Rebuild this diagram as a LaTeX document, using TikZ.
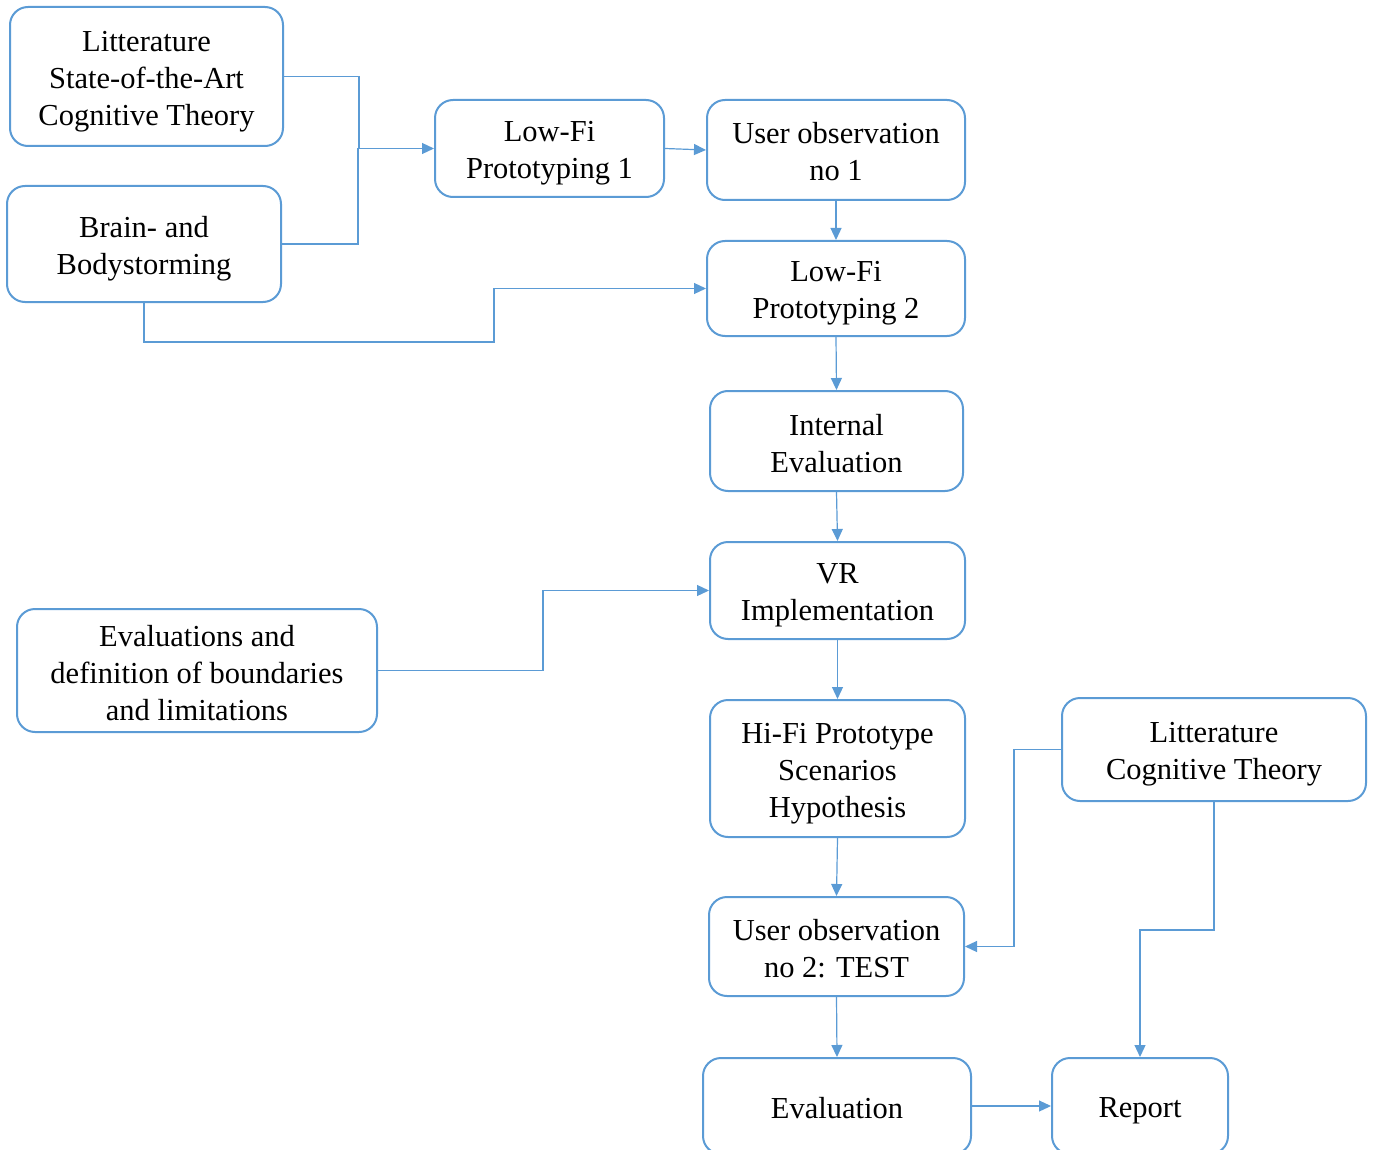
\documentclass[tikz,border=0pt]{standalone}
\usepackage{fontspec}
\setmainfont{Liberation Serif}
\usetikzlibrary{arrows.meta}
\definecolor{bl}{HTML}{5B9BD5}
\newcommand{\ms}{\rule[-5pt]{0pt}{35pt}}
\begin{document}
\begin{tikzpicture}[x=1pt,y=-1pt,
 box/.style={draw=bl, line width=2pt, rounded corners=18pt, align=center, inner sep=0pt, font=\fontsize{30.5}{37}\selectfont},
 conn/.style={draw=bl, line width=1.2pt, -{Triangle[length=12pt,width=11pt]}},
 seg/.style={draw=bl, line width=1.2pt}]
\useasboundingbox (0,0) rectangle (1375,1150);
\clip (0,0) rectangle (1375,1150);
\node[box, minimum width=273pt, minimum height=139pt] (lit1) at (146.5,76.5) {\ms Litterature\\State-of-the-Art\\Cognitive Theory\ms};
\node[box, minimum width=274pt, minimum height=116pt] (brain) at (144,244) {\ms Brain- and\\Bodystorming\ms};
\node[box, minimum width=229pt, minimum height=97pt] (lf1) at (549.5,148.5) {\ms Low-Fi\\Prototyping 1\ms};
\node[box, minimum width=258pt, minimum height=100pt] (uo1) at (836,150) {\ms User observation\\no 1\ms};
\node[box, minimum width=258pt, minimum height=95pt] (lf2) at (836,288.5) {\ms Low-Fi\\Prototyping 2\ms};
\node[box, minimum width=253pt, minimum height=100pt] (ie) at (836.5,441) {\ms Internal\\Evaluation\ms};
\node[box, minimum width=255pt, minimum height=97pt] (vr) at (837.5,590.5) {\ms VR\\Implementation\ms};
\node[box, minimum width=360pt, minimum height=123pt] (evals) at (197,670.5) {\ms Evaluations and\\definition of boundaries\\and limitations\ms};
\node[box, minimum width=255pt, minimum height=137pt] (hifi) at (837.5,768.5) {\ms Hi-Fi Prototype\\Scenarios\\Hypothesis\ms};
\node[box, minimum width=304pt, minimum height=103pt] (lit2) at (1214,749.5) {\ms Litterature\\Cognitive Theory\ms};
\node[box, minimum width=255pt, minimum height=99pt] (uo2) at (836.5,946.5) {\ms User observation\\no 2: TEST\ms};
\node[box, minimum width=268pt, minimum height=96pt] (eval) at (837,1106) {\ms Evaluation\ms};
\node[box, minimum width=176pt, minimum height=96pt] (rep) at (1140,1106) {\ms Report\ms};
\draw[conn] (lit1.east) -- (359,76.5) -- (359,148.5) -- (lf1.west);
\draw[seg] (brain.east) -- (358,244) -- (358,148.5);
\draw[conn] (brain.south) -- (144,342) -- (494,342) |- (lf2.west);
\draw[conn] (lf1.east) -- (uo1.west);
\draw[conn] (uo1.south) -- (lf2.north);
\draw[conn] (lf2.south) -- (ie.north);
\draw[conn] (ie.south) -- (vr.north);
\draw[conn] (evals.east) -- (543,670.5) |- (vr.west);
\draw[conn] (vr.south) -- (hifi.north);
\draw[conn] (hifi.south) -- (uo2.north);
\draw[conn] (lit2.west) -- (1014,749.5) |- (uo2.east);
\draw[conn] (uo2.south) -- (eval.north);
\draw[conn] (lit2.south) -- (1214,930) -| (rep.north);
\draw[conn] (eval.east) -- (rep.west);
\end{tikzpicture}
\end{document}
